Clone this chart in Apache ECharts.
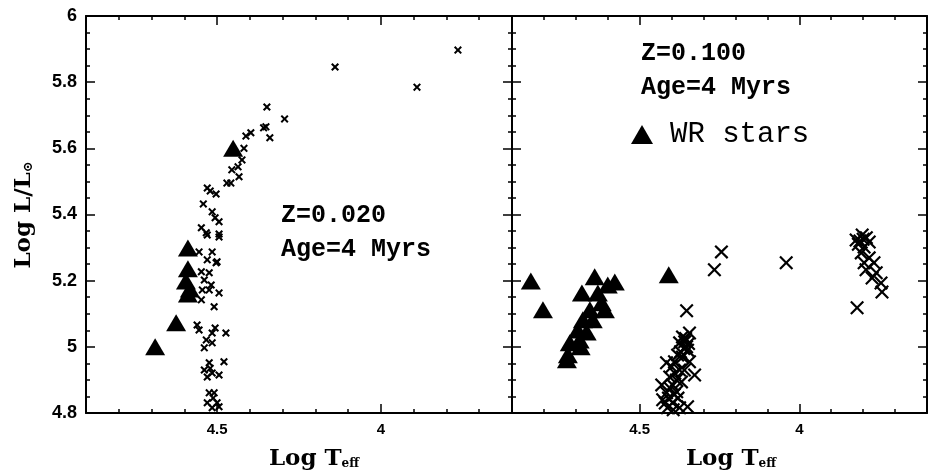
<!DOCTYPE html>
<html><head><meta charset="utf-8">
<script src="https://cdn.jsdelivr.net/npm/echarts@6/dist/echarts.min.js"></script>
<style>html,body{margin:0;padding:0;background:#fff}#c{width:930px;height:473px}</style>
</head><body><div id="c"></div>
<script>
// ---- data (log Teff, log L/Lsun) ----
const xTickLabels = [4.5, 4];
const yTickLabels = [4.8, 5, 5.2, 5.4, 5.6, 5.8, 6];

const leftCrosses = [
[3.765,5.897],[3.890,5.785],[4.140,5.846],
[4.348,5.725],[4.294,5.689],[4.358,5.662],[4.351,5.665],[4.339,5.632],[4.397,5.647],[4.412,5.637],
[4.418,5.600],[4.424,5.565],[4.436,5.544],[4.455,5.535],[4.433,5.514],[4.470,5.495],[4.458,5.495],
[4.530,5.480],[4.521,5.471],[4.503,5.462],[4.542,5.432],[4.515,5.408],[4.506,5.390],[4.494,5.378],
[4.548,5.360],[4.533,5.345],[4.494,5.341],[4.530,5.338],[4.494,5.332],[4.555,5.287],[4.515,5.287],
[4.530,5.263],[4.500,5.257],[4.503,5.254],[4.548,5.227],[4.524,5.224],[4.539,5.202],[4.518,5.187],
[4.545,5.172],[4.524,5.172],[4.494,5.163],[4.548,5.142],[4.509,5.121],[4.561,5.066],[4.555,5.051],
[4.506,5.057],[4.473,5.042],[4.515,5.042],[4.533,5.021],[4.515,5.012],[4.539,4.997],[4.479,4.955],
[4.524,4.952],[4.539,4.930],[4.515,4.921],[4.494,4.915],[4.530,4.909],[4.509,4.861],[4.524,4.861],
[4.530,4.831],[4.500,4.831],[4.515,4.816],[4.494,4.819],[4.521,4.935],[4.512,4.845]
];
const leftWR = [
[4.451,5.600],[4.589,5.299],[4.589,5.236],[4.595,5.199],[4.583,5.175],[4.589,5.160],[4.625,5.073],[4.689,5.000]
];
const rightCrosses = [
[4.244,5.287],[4.266,5.233],[4.041,5.254],[4.353,5.109],
[4.366,5.030],[4.344,5.042],[4.375,5.012],[4.350,4.990],[4.366,4.969],[4.391,4.955],[4.416,4.952],
[4.344,4.955],[4.375,4.930],[4.328,4.915],[4.406,4.909],[4.431,4.885],[4.397,4.885],[4.369,4.894],
[4.416,4.861],[4.384,4.864],[4.428,4.840],[4.397,4.831],[4.350,4.819],[4.375,4.816],[4.413,4.816],
[4.359,5.015],[4.353,5.000],[4.381,4.975],[4.400,4.940],[4.360,4.930],[4.420,4.830],
[4.356,5.025],[4.347,5.010],[4.362,4.995],[4.372,4.985],[4.390,4.920],[4.385,4.900],[4.405,4.875],
[4.392,4.855],[4.410,4.845],[4.380,4.845],[4.395,4.810],
[3.803,5.338],[3.822,5.323],[3.781,5.317],[3.797,5.302],[3.806,5.284],[3.781,5.269],[3.797,5.254],
[3.766,5.254],[3.791,5.233],[3.759,5.224],[3.772,5.208],[3.744,5.193],[3.741,5.166],[3.819,5.118],
[3.810,5.320],[3.790,5.330],[3.800,5.325],[3.815,5.310]
];
const rightWR = [
[4.841,5.199],[4.803,5.112],[4.681,5.163],[4.641,5.212],[4.600,5.187],[4.578,5.196],[4.631,5.163],
[4.619,5.133],[4.609,5.112],[4.656,5.112],[4.678,5.082],[4.647,5.082],[4.666,5.045],[4.694,5.051],
[4.688,5.021],[4.719,5.012],[4.685,5.000],[4.728,4.961],[4.725,4.976],[4.409,5.218]
];
const panelTexts = [['Z=0.020','Age=4 Myrs'],['Z=0.100','Age=4 Myrs']];

// ---- chart ----
const crossThick = 'path://M0,1.8L1.8,0L5,3.2L8.2,0L10,1.8L6.8,5L10,8.2L8.2,10L5,6.8L1.8,10L0,8.2L3.2,5Z';
const crossThin = 'path://M0,1.1L1.1,0L5,3.9L8.9,0L10,1.1L6.1,5L10,8.9L8.9,10L5,6.1L1.1,10L0,8.9L3.9,5Z';
const lineStyle = {color:'#000', width:2};
const LAB = 'Liberation Sans';

function xAxes(g){
  const base = {type:'value', gridIndex:g, inverse:true, min:3.6, max:4.9, splitLine:{show:false}};
  return [
    Object.assign({}, base, {position:'bottom', interval:0.1,
      axisLine:{show:true, onZero:false, lineStyle},
      axisTick:{show:true, inside:true, length:4, lineStyle:{color:'#000', width:1.5}},
      axisLabel:{show:true, margin:9, color:'#000', fontFamily:LAB, fontWeight:'bold', fontSize:15,
        formatter:v => { for (const t of xTickLabels) if (Math.abs(v-t)<1e-6) return String(t); return ''; }}}),
    Object.assign({}, base, {position:'bottom', axisLine:{show:false},
      axisTick:{show:true, inside:true, length:9, customValues:xTickLabels, lineStyle:{color:'#000', width:1.5}},
      axisLabel:{show:false}}),
    Object.assign({}, base, {position:'top', interval:0.1,
      axisLine:{show:true, onZero:false, lineStyle},
      axisTick:{show:true, inside:true, length:4, lineStyle:{color:'#000', width:1.5}},
      axisLabel:{show:false}}),
    Object.assign({}, base, {position:'top', axisLine:{show:false},
      axisTick:{show:true, inside:true, length:9, customValues:xTickLabels, lineStyle:{color:'#000', width:1.5}},
      axisLabel:{show:false}})
  ];
}
function yAxes(g, labels){
  const base = {type:'value', gridIndex:g, min:4.8, max:6, interval:0.2, splitLine:{show:false},
    axisLine:{show:true, onZero:false, lineStyle},
    axisTick:{show:true, inside:true, length:9, lineStyle:{color:'#000', width:1.5}},
    minorTick:{show:true, splitNumber:4, length:4, lineStyle:{color:'#000', width:1.5}},
    minorSplitLine:{show:false}};
  return [
    Object.assign({}, base, {position:'left',
      axisLabel:{show:labels, margin:9, color:'#000', fontFamily:LAB, fontWeight:'bold', fontSize:18,
        formatter:v => { for (const t of yTickLabels) if (Math.abs(v-t)<1e-6) return String(t); return ''; }}}),
    Object.assign({}, base, {position:'right', axisLabel:{show:false}})
  ];
}

const xs = xAxes(0).concat(xAxes(1));
const ys = yAxes(0,true).concat(yAxes(1,false));

function sc(name, data, xi, yi, symbol, size){
  return {type:'scatter', name, data, xAxisIndex:xi, yAxisIndex:yi, symbol, symbolSize:size,
    itemStyle:{color:'#000', opacity:1}, emphasis:{disabled:true}, silent:true, animation:false};
}

const TXT = 'Liberation Mono';
const option = {
  animation:false,
  backgroundColor:'#fff',
  grid:[
    {left:86, top:16, width:426, height:397, containLabel:false},
    {left:512, top:16, width:416, height:397, containLabel:false}
  ],
  xAxis: xs,
  yAxis: ys,
  legend:{show:true, data:[{name:'WR stars', icon:'triangle'}], left:631, top:120, padding:0, itemWidth:22, itemHeight:19,
    textStyle:{fontFamily:TXT, fontSize:29, color:'#000', padding:[0,0,0,12]}, selectedMode:false},
  series:[
    sc('crossL', leftCrosses, 0, 0, crossThick, 8),
    sc('WR stars', leftWR, 0, 0, 'triangle', [20,17]),
    sc('crossR', rightCrosses, 4, 2, crossThin, 14),
    sc('WR stars', rightWR, 4, 2, 'triangle', [20,17])
  ],
  graphic:[
    {type:'text', left:281, top:203, style:{text:panelTexts[0][0], font:'bold 25px "Liberation Mono"', fill:'#000'}},
    {type:'text', left:281, top:237, style:{text:panelTexts[0][1], font:'bold 25px "Liberation Mono"', fill:'#000'}},
    {type:'text', left:641, top:41, style:{text:panelTexts[1][0], font:'bold 25px "Liberation Mono"', fill:'#000'}},
    {type:'text', left:641, top:75, style:{text:panelTexts[1][1], font:'bold 25px "Liberation Mono"', fill:'#000'}},
    {type:'text', x:314, y:459, style:{text:'Log T{s|eff}', font:'bold 23px "DejaVu Serif"', fill:'#000',
      align:'center', verticalAlign:'middle', rich:{s:{font:'bold 12px "DejaVu Serif"', padding:[10,0,0,0]}}}},
    {type:'text', x:731, y:459, style:{text:'Log T{s|eff}', font:'bold 23px "DejaVu Serif"', fill:'#000',
      align:'center', verticalAlign:'middle', rich:{s:{font:'bold 12px "DejaVu Serif"', padding:[10,0,0,0]}}}},
    {type:'text', x:24, y:215, rotation:Math.PI/2, style:{text:'Log L/L{s|⊙}', font:'bold 23px "DejaVu Serif"', fill:'#000',
      align:'center', verticalAlign:'middle', rich:{s:{font:'bold 13px "DejaVu Serif"', padding:[10,0,0,0]}}}}
  ]
};
const chart = echarts.init(document.getElementById('c'), null, {renderer:'canvas'});
chart.setOption(option);
</script></body></html>
